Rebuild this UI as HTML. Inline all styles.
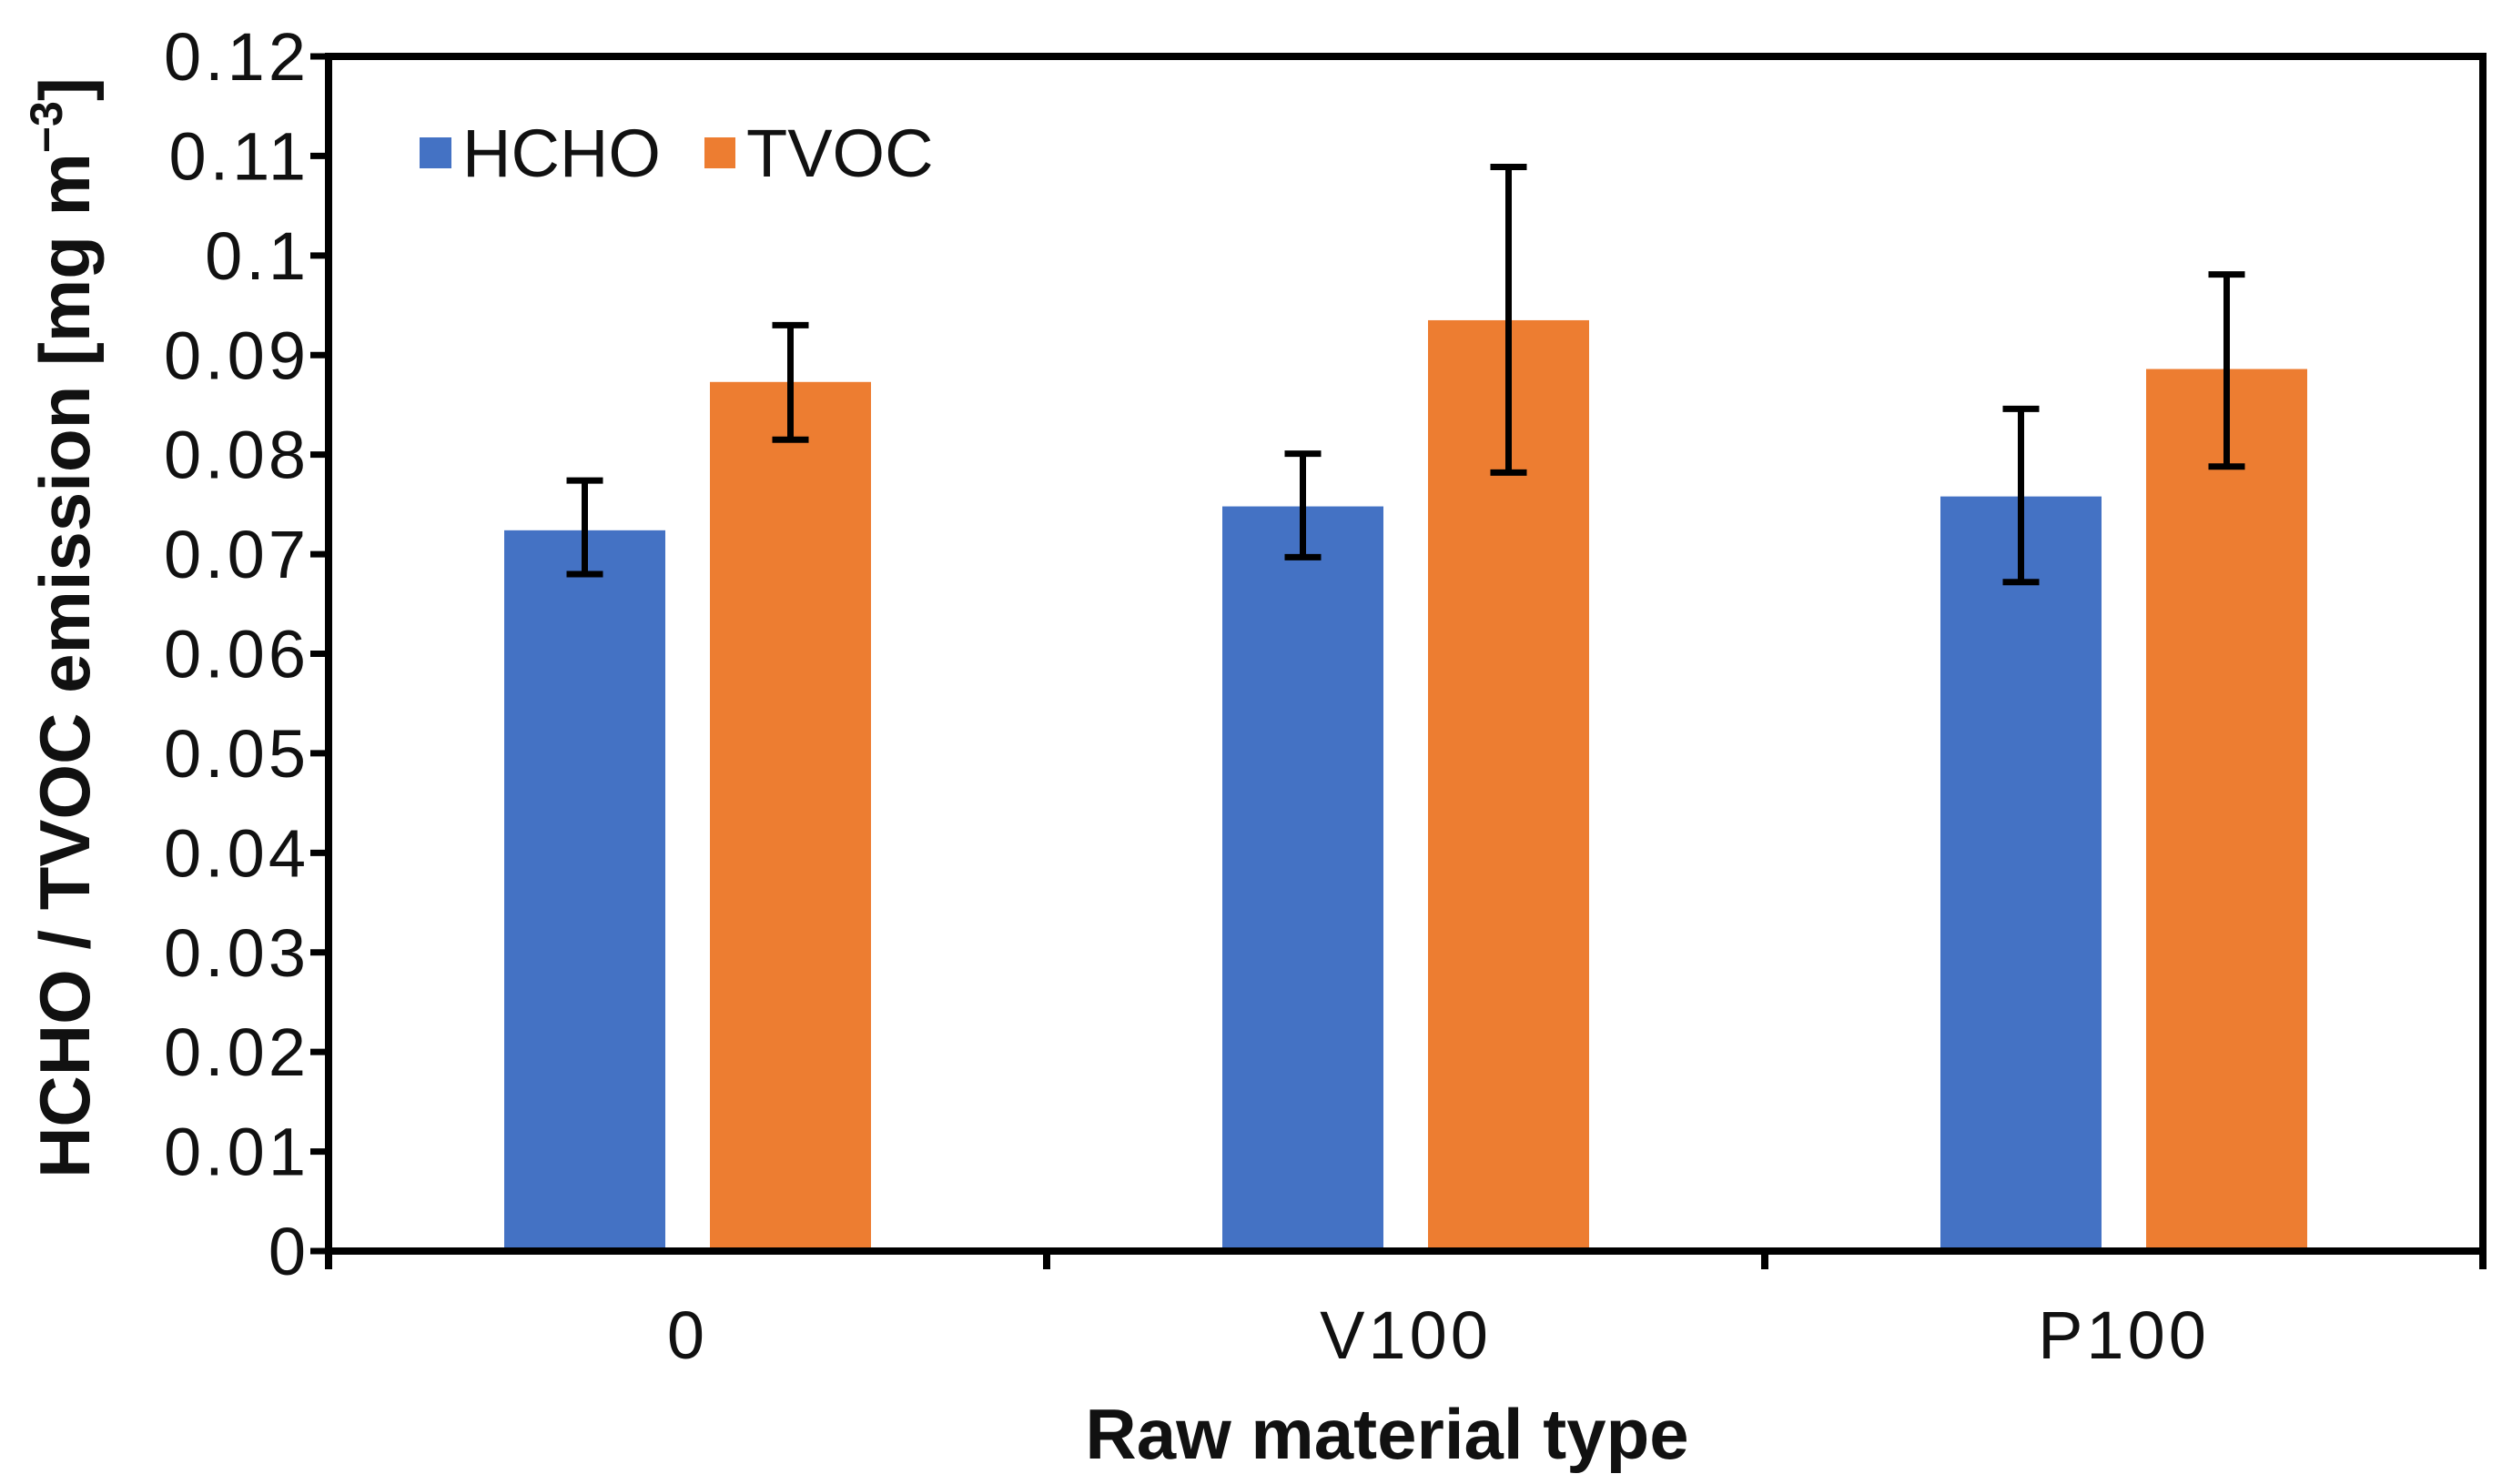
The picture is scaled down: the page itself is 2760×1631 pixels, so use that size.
<!DOCTYPE html>
<html><head><meta charset="utf-8"><style>
html,body{margin:0;padding:0;background:#fff}
svg{display:block;font-family:"Liberation Sans",Arial,sans-serif}
</style></head><body>
<svg id="chart" width="2760" height="1631" viewBox="0 0 2760 1631" xmlns="http://www.w3.org/2000/svg">
<g id="plot"></g>
</svg>
<script>
const categories = ["0", "V100", "P100"];
const hchoValues = [0.0724, 0.0748, 0.0758];
const hchoErrHigh = [0.0774, 0.0801, 0.0846];
const hchoErrLow = [0.0680, 0.0697, 0.0672];
const tvocValues = [0.0873, 0.0935, 0.0886];
const tvocErrHigh = [0.0930, 0.1089, 0.0981];
const tvocErrLow = [0.0815, 0.0782, 0.0788];
const yTicks = [0, 0.01, 0.02, 0.03, 0.04, 0.05, 0.06, 0.07, 0.08, 0.09, 0.1, 0.11, 0.12];
const yTickLabels = ["0","0.01","0.02","0.03","0.04","0.05","0.06","0.07","0.08","0.09","0.1","0.11","0.12"];

const NS = "http://www.w3.org/2000/svg";
const g = document.getElementById("plot");
const L = 361, R = 2728, T = 62, B = 1375, yMax = 0.12;
const yS = v => B - (v / yMax) * (B - T);
const gw = (R - L) / categories.length;
const xC = i => L + gw * (i + 0.5);
const bw = 177, off = 113;
function mk(tag, attrs, text) {
  const e = document.createElementNS(NS, tag);
  for (const k in attrs) e.setAttribute(k, attrs[k]);
  if (text !== undefined) e.textContent = text;
  g.appendChild(e);
  return e;
}
function series(vals, hi, lo, color, dx, name) {
  vals.forEach((v, i) => {
    const cx = xC(i) + dx;
    const b = mk("rect", {x: cx - bw / 2, y: yS(v), width: bw, height: B - yS(v), fill: color});
    
    
    const e = mk("path", {d: `M${cx},${yS(hi[i])}V${yS(lo[i])}M${cx-20},${yS(hi[i])}H${cx+20}M${cx-20},${yS(lo[i])}H${cx+20}`, stroke: "#000", "stroke-width": 7, fill: "none"});
    
    
  });
}
series(hchoValues, hchoErrHigh, hchoErrLow, "#4472C4", -off, "hcho");
series(tvocValues, tvocErrHigh, tvocErrLow, "#ED7D31", off, "tvoc");
const fr = mk("path", {d: `M${L},${T}H${R}V${B}`, stroke: "#000", "stroke-width": 8, fill: "none"});


const ya = mk("line", {x1: L, y1: T - 4, x2: L, y2: B + 20, stroke: "#000", "stroke-width": 8});


const xa = mk("line", {x1: L - 4, y1: B, x2: R + 4, y2: B, stroke: "#000", "stroke-width": 8});


yTicks.forEach((v, i) => {
  const t = mk("line", {x1: L - 20, y1: yS(v), x2: L, y2: yS(v), stroke: "#000", "stroke-width": 7});
  
  
  const lb = mk("text", {x: 340, y: yS(v) + 26, "font-size": 74, "letter-spacing": 4, "text-anchor": "end", fill: "#111"}, yTickLabels[i]);
  
  
});
for (let i = 0; i <= categories.length; i++) {
  const x = L + gw * i;
  const t = mk("line", {x1: x, y1: B, x2: x, y2: B + 20, stroke: "#000", "stroke-width": 8});
  
  
}
categories.forEach((c, i) => {
  const lb = mk("text", {x: xC(i), y: 1493, "font-size": 74, "letter-spacing": 4, "text-anchor": "middle", fill: "#111"}, c);
  
  
});
const xt = mk("text", {x: 1524, y: 1603, "font-size": 78, "font-weight": "bold", "text-anchor": "middle", fill: "#111"}, "Raw material type");


const yt = mk("text", {x: 0, y: 0, "font-size": 78, "font-weight": "bold", "text-anchor": "middle", fill: "#111", transform: "translate(98,690) rotate(-90)"});


yt.innerHTML = 'HCHO / TVOC emission [mg m<tspan font-size="50" dy="-30">−3</tspan><tspan dy="30">]</tspan>';
const ls1 = mk("rect", {x: 461, y: 151, width: 35, height: 34, fill: "#4472C4"});


const lt1 = mk("text", {x: 508, y: 194, "font-size": 74, fill: "#111"}, "HCHO");


const ls2 = mk("rect", {x: 774, y: 151, width: 34, height: 34, fill: "#ED7D31"});


const lt2 = mk("text", {x: 820, y: 194, "font-size": 74, fill: "#111"}, "TVOC");


</script>
</body></html>
